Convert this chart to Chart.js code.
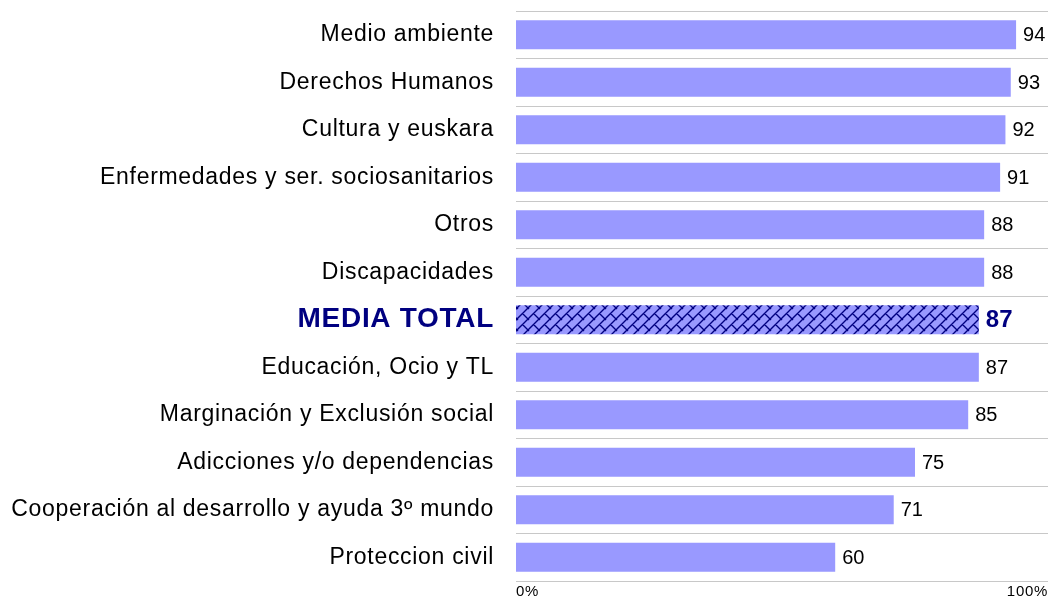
<!DOCTYPE html>
<html>
<head>
<meta charset="utf-8">
<script src="https://cdn.jsdelivr.net/npm/chart.js@4/dist/chart.umd.min.js"></script>
<style>
  body { margin: 0; background: #fff; }
  canvas { display: block; }
</style>
</head>
<body>
<canvas id="myChart" width="1056" height="596"></canvas>
<script>
// data
const categories = [
    'Medio ambiente',
    'Derechos Humanos',
    'Cultura y euskara',
    'Enfermedades y ser. sociosanitarios',
    'Otros',
    'Discapacidades',
    'MEDIA TOTAL',
    'Educación, Ocio y TL',
    'Marginación y Exclusión social',
    'Adicciones y/o dependencias',
    'Cooperación al desarrollo y ayuda 3º mundo',
    'Proteccion civil'
];
const values = [94, 93, 92, 91, 88, 88, 87, 87, 85, 75, 71, 60];
const axisTicks = [0, 100];
const totalIndex = categories.indexOf('MEDIA TOTAL');

const FONT = "'Liberation Sans', Arial, sans-serif";
const BAR = '#9999ff';
const NAVY = '#000080';

// diagonal brick hatch for the average bar
function makeHatch() {
    const s = 11;
    const c = document.createElement('canvas');
    c.width = s;
    c.height = s;
    const g = c.getContext('2d');
    g.fillStyle = BAR;
    g.fillRect(0, 0, s, s);
    g.strokeStyle = NAVY;
    g.lineWidth = 1.4;
    g.beginPath();
    [-s, 0, s].forEach(function(o){
        g.moveTo(-1 + o, s + 1);
        g.lineTo(s + 1 + o, -1);
    });
    g.moveTo(s / 2, s / 2);
    g.lineTo(s + 1, s + 1);
    g.moveTo(-1, -1);
    g.lineTo(1, 1);
    g.stroke();
    return g.createPattern(c, 'repeat');
}
const hatch = makeHatch();

const colors = values.map(function(v, i){ return i === totalIndex ? hatch : BAR; });

// wider letter spacing for the axis text, like the original export
const spacing = {
    id: 'spacing',
    beforeDraw: function(chart){ chart.ctx.letterSpacing = '0.7px'; },
    beforeDatasetsDraw: function(chart){ chart.ctx.letterSpacing = '0px'; }
};

// value labels at the end of each bar
const valueLabels = {
    id: 'valueLabels',
    afterDatasetsDraw: function(chart) {
        const ctx = chart.ctx;
        const meta = chart.getDatasetMeta(0);
        ctx.save();
        ctx.textBaseline = 'middle';
        ctx.textAlign = 'left';
        meta.data.forEach(function(bar, i){
            if (i === totalIndex) {
                ctx.font = 'bold 24px ' + FONT;
                ctx.fillStyle = NAVY;
            } else {
                ctx.font = '20px ' + FONT;
                ctx.fillStyle = '#000';
            }
            ctx.fillText(values[i], bar.x + 7, bar.y + 1);
        });
        ctx.restore();
    }
};

const ctx = document.getElementById('myChart');
const myChart = new Chart(ctx, {
    type: 'bar',
    data: {
        labels: categories,
        datasets: [{
            data: values,
            backgroundColor: colors,
            borderWidth: 0,
            barPercentage: 0.61,
            categoryPercentage: 1
        }]
    },
    options: {
        indexAxis: 'y',
        responsive: false,
        animation: false,
        layout: {
            padding: { top: 11, right: 8, left: 0, bottom: 0 }
        },
        plugins: {
            legend: { display: false },
            tooltip: { enabled: false }
        },
        scales: {
            y: {
                afterFit: function(scale){
                    scale.width = 516;
                    scale.paddingTop = 0;
                    scale.paddingBottom = 0;
                },
                border: { display: false },
                grid: {
                    color: '#c8c8c8',
                    lineWidth: 1,
                    drawTicks: false,
                    offset: true
                },
                ticks: {
                    padding: 22,
                    color: function(c){ return c.index === totalIndex ? NAVY : '#000'; },
                    font: function(c){
                        return c.index === totalIndex
                            ? { family: FONT, size: 28, weight: 'bold' }
                            : { family: FONT, size: 23 };
                    }
                }
            },
            x: {
                min: axisTicks[0],
                max: axisTicks[1],
                afterFit: function(scale){
                    scale.height = 15;
                    scale.paddingLeft = 0;
                    scale.paddingRight = 0;
                },
                afterBuildTicks: function(scale){
                    scale.ticks = axisTicks.map(function(v){ return { value: v }; });
                },
                border: { display: false },
                grid: { display: false, drawTicks: false },
                ticks: {
                    padding: 2,
                    align: 'inner',
                    maxRotation: 0,
                    color: '#000',
                    font: { family: FONT, size: 15 },
                    callback: function(v){ return v + '%'; }
                }
            }
        }
    },
    plugins: [spacing, valueLabels]
});
</script>
</body>
</html>
